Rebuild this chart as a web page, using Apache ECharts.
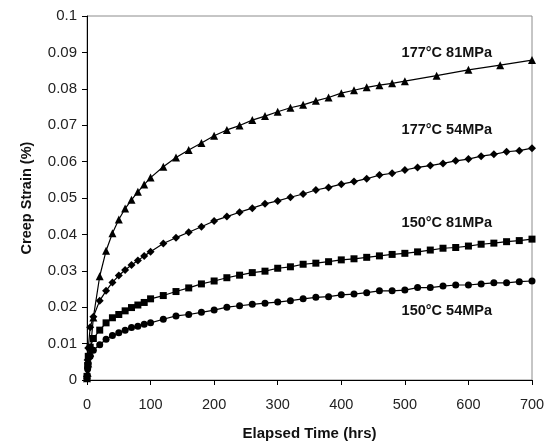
<!DOCTYPE html>
<html>
<head>
<meta charset="utf-8">
<script src="https://cdn.jsdelivr.net/npm/echarts@6/dist/echarts.min.js"></script>
<style>
  html, body { margin: 0; padding: 0; background: #fff; }
  #chart { width: 545px; height: 441px; }
</style>
</head>
<body>
<div id="chart"></div>
<script>
// Creep strain (%) vs elapsed time (hrs) for four temperature / stress conditions
const timeFine = [0, 1, 2, 5, 10, 20, 30, 40, 50, 60, 70, 80, 90, 100,
  120, 140, 160, 180, 200, 220, 240, 260, 280, 300, 320, 340, 360, 380,
  400, 420, 440, 460, 480, 500, 520, 540, 560, 580, 600, 620, 640, 660, 680, 700];
const time177_81 = [0, 1, 2, 5, 10, 20, 30, 40, 50, 60, 70, 80, 90, 100,
  120, 140, 160, 180, 200, 220, 240, 260, 280, 300, 320, 340, 360, 380,
  400, 420, 440, 460, 480, 500, 550, 600, 650, 700];

const strain177_81 = [0.0005, 0.002, 0.0045, 0.0075, 0.0172, 0.0285, 0.0355, 0.0403, 0.0441, 0.0471,
  0.0495, 0.0517, 0.0537, 0.0556, 0.0586, 0.0611, 0.0632, 0.0651, 0.0671, 0.0687,
  0.0699, 0.0714, 0.0725, 0.0737, 0.0748, 0.0756, 0.0767, 0.0776, 0.0788, 0.0796,
  0.0804, 0.0810, 0.0815, 0.0821, 0.0836, 0.0852, 0.0865, 0.0879];
const strain177_54 = [0.001, 0.0055, 0.0088, 0.0145, 0.0174, 0.0218, 0.0245, 0.0268, 0.0287, 0.0302,
  0.0316, 0.0328, 0.0341, 0.0352, 0.0375, 0.0391, 0.0406, 0.0421, 0.0437, 0.0449,
  0.0461, 0.0472, 0.0484, 0.0492, 0.0502, 0.0511, 0.0522, 0.0529, 0.0538, 0.0545,
  0.0553, 0.0563, 0.0568, 0.0577, 0.0584, 0.0589, 0.0595, 0.0602, 0.0607, 0.0615,
  0.0620, 0.0627, 0.0630, 0.0637];
const strain150_81 = [0.001, 0.004, 0.0065, 0.009, 0.0114, 0.0137, 0.0157, 0.0171, 0.0180, 0.0190,
  0.0199, 0.0206, 0.0213, 0.0223, 0.0232, 0.0243, 0.0253, 0.0264, 0.0272, 0.0281,
  0.0288, 0.0295, 0.0299, 0.0307, 0.0311, 0.0318, 0.0321, 0.0325, 0.0330, 0.0333,
  0.0337, 0.0341, 0.0345, 0.0348, 0.0352, 0.0357, 0.0362, 0.0364, 0.0368, 0.0373,
  0.0376, 0.0380, 0.0383, 0.0387];
const strain150_54 = [0.0005, 0.003, 0.0045, 0.0065, 0.0082, 0.0097, 0.0112, 0.0122, 0.0130, 0.0137,
  0.0144, 0.0148, 0.0153, 0.0157, 0.0167, 0.0176, 0.0180, 0.0186, 0.0192, 0.0200,
  0.0204, 0.0208, 0.0211, 0.0214, 0.0218, 0.0223, 0.0227, 0.0229, 0.0234, 0.0236,
  0.0240, 0.0245, 0.0245, 0.0247, 0.0254, 0.0254, 0.0258, 0.0261, 0.0261, 0.0264,
  0.0267, 0.0267, 0.0270, 0.0272];

const seriesNames = ['177°C 81MPa', '177°C 54MPa', '150°C 81MPa', '150°C 54MPa'];
const xTicks = { min: 0, max: 700, step: 100 };
const yTicks = { min: 0, max: 0.1, step: 0.01 };

const pair = (xs, ys) => xs.map((x, i) => [x, ys[i]]);

const FONT = '"Liberation Sans", Arial, sans-serif';

function lineSeries(name, data, symbol, size) {
  return {
    name: name,
    type: 'line',
    data: data,
    symbol: symbol,
    symbolSize: size,
    showSymbol: true,
    itemStyle: { color: '#000', borderWidth: 0 },
    lineStyle: { color: '#000', width: 1.2 },
    animation: false,
    z: 3
  };
}

const chart = echarts.init(document.getElementById('chart'), null, { renderer: 'canvas' });

// Condition labels, anchored in data coordinates
const labelPos = [[566, 0.0897], [566, 0.0687], [566, 0.0432], [566, 0.0190]];

chart.setOption({
  backgroundColor: '#fff',
  animation: false,
  grid: {
    left: 87, right: 13, top: 16, bottom: 61,
    outerBoundsMode: 'none',
    containLabel: false,
    show: true, borderColor: '#8c8c8c', borderWidth: 1, backgroundColor: 'transparent'
  },
  xAxis: {
    type: 'value',
    min: xTicks.min, max: xTicks.max, interval: xTicks.step,
    name: 'Elapsed Time (hrs)',
    nameLocation: 'middle',
    nameGap: 46,
    nameMoveOverlap: false,
    nameTextStyle: { fontFamily: FONT, fontSize: 15, fontWeight: 'bold', color: '#111', verticalAlign: 'top' },
    axisLine: { show: true, onZero: false, lineStyle: { color: '#000', width: 1 } },
    axisTick: { show: true, inside: false, length: 5, lineStyle: { color: '#000' } },
    axisLabel: { fontFamily: FONT, fontSize: 14.5, color: '#222', margin: 17 },
    splitLine: { show: false }
  },
  yAxis: {
    type: 'value',
    min: yTicks.min, max: yTicks.max, interval: yTicks.step,
    name: 'Creep Strain (%)',
    nameLocation: 'middle',
    nameGap: 53,
    nameRotate: 90,
    nameTextStyle: { fontFamily: FONT, fontSize: 14.5, fontWeight: 'bold', color: '#111' },
    axisLine: { show: true, onZero: false, lineStyle: { color: '#000', width: 1 } },
    axisTick: { show: true, inside: false, length: 5, lineStyle: { color: '#000' } },
    axisLabel: {
      fontFamily: FONT, fontSize: 15, color: '#222', margin: 10,
      formatter: v => String(Number(v.toFixed(2)))
    },
    splitLine: { show: false }
  },
  series: [
    lineSeries(seriesNames[0], pair(time177_81, strain177_81), 'triangle', 8),
    lineSeries(seriesNames[1], pair(timeFine, strain177_54), 'diamond', 8),
    lineSeries(seriesNames[2], pair(timeFine, strain150_81), 'rect', 7),
    lineSeries(seriesNames[3], pair(timeFine, strain150_54), 'circle', 7),
    {
      type: 'scatter',
      silent: true,
      symbolSize: 0,
      itemStyle: { opacity: 1, color: 'transparent' },
      data: labelPos.map((p, i) => ({ value: p, name: seriesNames[i] })),
      label: {
        show: true,
        position: 'inside',
        formatter: p => p.name,
        fontFamily: FONT, fontSize: 14.5, fontWeight: 'bold', color: '#111'
      },
      animation: false,
      z: 5
    }
  ]
});
</script>
</body>
</html>
